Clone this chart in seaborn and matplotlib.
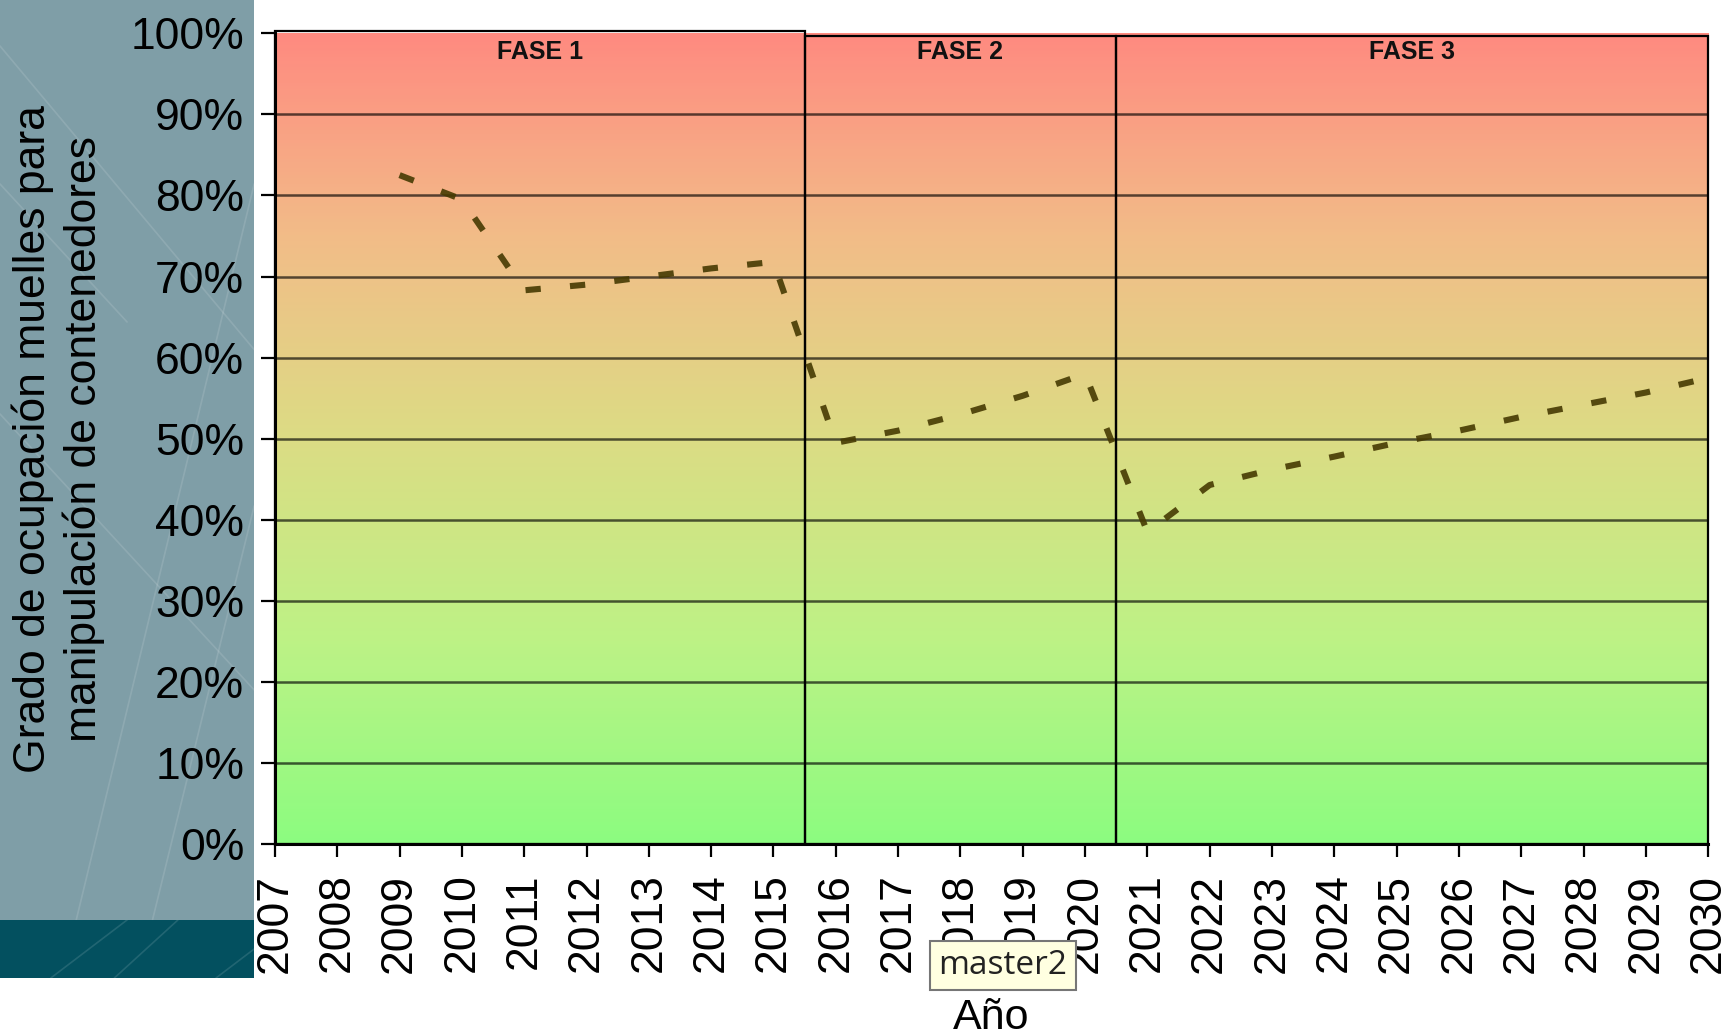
import numpy as np
import pandas as pd
import seaborn as sns
import matplotlib.pyplot as plt
from matplotlib.colors import LinearSegmentedColormap
from matplotlib.patches import Rectangle
from matplotlib.ticker import PercentFormatter

# data
years = [2009, 2010, 2011, 2012, 2013, 2014, 2015, 2016, 2017, 2018, 2019,
         2020, 2021, 2022, 2023, 2024, 2025, 2026, 2027, 2028, 2029, 2030]
occupancy = [0.825, 0.795, 0.683, 0.690, 0.700, 0.710, 0.718, 0.495, 0.510,
             0.530, 0.553, 0.580, 0.385, 0.443, 0.462, 0.478, 0.495, 0.510,
             0.527, 0.542, 0.557, 0.575]
phase_labels = ['FASE 1', 'FASE 2', 'FASE 3']
phase_bounds = [2007, 2015.5, 2020.5, 2030]
tick_years = list(range(2007, 2031))

df = pd.DataFrame({'Año': years, 'Ocupacion': occupancy})

sns.set_theme(style='white')
plt.rcParams['font.family'] = ['Liberation Sans', 'DejaVu Sans']
plt.rcParams['text.color'] = 'black'
plt.rcParams['axes.labelcolor'] = 'black'

fig = plt.figure(figsize=(17.29, 10.36), dpi=100)
fig.patch.set_facecolor('white')

# slide background strip on the left
bg = fig.add_axes([0, 0.112, 0.147, 0.888], zorder=-5)
bg.set_facecolor('#7f9ea7')
bg.set_xticks([]); bg.set_yticks([])
for s in bg.spines.values():
    s.set_visible(False)
for x0, y0, x1, y1 in [(0, 0.95, 1, 0.62), (0, 0.55, 1, 0.25), (0.3, 0, 1, 0.8),
                       (0.6, 0, 1, 0.45), (0, 0.8, 0.5, 0.65)]:
    bg.plot([x0, x1], [y0, y1], color='white', alpha=0.12, lw=1.2)
bg.set_xlim(0, 1); bg.set_ylim(0, 1)

teal = fig.add_axes([0, 0.056, 0.147, 0.056], zorder=-5)
teal.set_facecolor('#03505f')
teal.set_xticks([]); teal.set_yticks([])
for s in teal.spines.values():
    s.set_visible(False)
for x0, y0, x1, y1 in [(0.2, 0, 0.5, 1), (0.45, 0, 0.7, 1), (0.85, 0, 1, 0.5)]:
    teal.plot([x0, x1], [y0, y1], color='white', alpha=0.12, lw=1.2)
teal.set_xlim(0, 1); teal.set_ylim(0, 1)

ax = fig.add_axes([0.159, 0.185, 0.829, 0.783])

# red -> yellow -> green background gradient
cmap = LinearSegmentedColormap.from_list(
    'occ', ['#8cfc80', '#bdf286', '#dcdc84', '#f2bc88', '#ff8a80'])
grad = np.linspace(0, 1, 256).reshape(-1, 1)
ax.imshow(grad, cmap=cmap, origin='lower', aspect='auto',
          extent=[2007, 2030, 0, 1], zorder=0)

for yv in np.arange(0.1, 1.0, 0.1):
    ax.axhline(yv, color='black', alpha=0.65, lw=1.8, zorder=1)

# phase boxes
for i, lab in enumerate(phase_labels):
    x0, x1 = phase_bounds[i], phase_bounds[i + 1]
    h = 1.003 if i == 0 else 0.997
    ax.add_patch(Rectangle((x0, 0), x1 - x0, h, fill=False, edgecolor='black',
                           lw=1.6, zorder=2, clip_on=False))
    ax.text((x0 + x1) / 2, 0.977, lab, ha='center', va='center', fontsize=18,
            fontweight='bold', color='#111111', zorder=3)

sns.lineplot(data=df, x='Año', y='Ocupacion', ax=ax, color='#463a02',
             alpha=0.9, lw=4.4, linestyle=(0, (2.5, 4.8)), zorder=4)

ax.set_xlim(2007, 2030)
ax.set_ylim(0, 1)
ax.set_xticks(tick_years)
ax.set_xticklabels([str(y) for y in tick_years], rotation=90)
ax.set_yticks(np.arange(0, 1.01, 0.1))
ax.yaxis.set_major_formatter(PercentFormatter(1.0, decimals=0))
ax.tick_params(axis='both', labelsize=32, colors='black', width=1.6)
ax.tick_params(axis='y', direction='out', length=10, pad=12, left=True)
ax.tick_params(axis='x', direction='out', length=9, pad=12, bottom=True)

for side in ['top', 'right']:
    ax.spines[side].set_visible(False)
for side in ['left', 'bottom']:
    ax.spines[side].set_color('black')
    ax.spines[side].set_linewidth(2.2)
    ax.spines[side].set_zorder(5)

ax.set_ylabel('Grado de ocupación muelles para\nmanipulación de contenedores',
              fontsize=32, va='center', ha='center', linespacing=1.25,
              color='black')
ax.yaxis.set_label_coords(-0.151, 0.5)
ax.set_xlabel('Año', fontsize=31, va='center', color='black')
ax.xaxis.set_label_coords(0.5, -0.214)

# tooltip left over in the screenshot
fig.text(0.580, 0.068, 'master2', fontsize=24, ha='center', va='center',
         color='#222222', family=['Open Sans', 'DejaVu Sans'],
         bbox=dict(boxstyle='square,pad=0.25', facecolor='#ffffe1',
                   edgecolor='#767676', lw=1.5))

fig.savefig('out.png', dpi=100)
